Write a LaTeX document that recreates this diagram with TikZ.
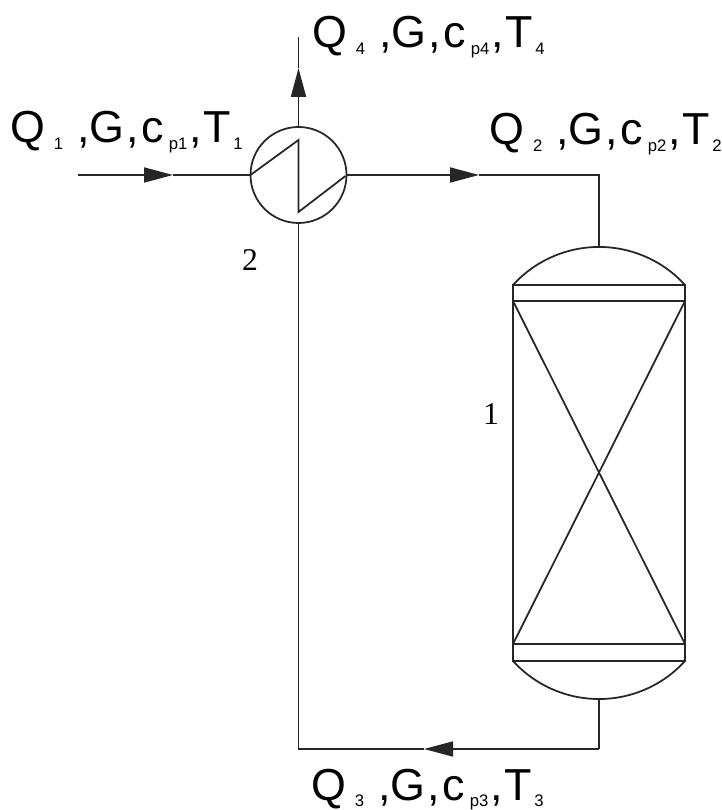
\documentclass[tikz,border=0pt]{standalone}
\usepackage{fontspec}
\setmainfont{Liberation Sans}
\newfontfamily\numfont{Liberation Serif}
\usetikzlibrary{arrows.meta,calc}
\newcommand{\flowsub}[1]{\raisebox{-3.6pt}{\fontsize{9.5}{10}\selectfont #1}}
\newcommand{\flowlabel}[1]{Q\hspace{5pt}\flowsub{#1}\hspace{8pt},G\hspace{0.8pt},\hspace{1.5pt}c\hspace{3pt}\flowsub{p#1}\hspace{1pt},\hspace{1pt}T\hspace{1.5pt}\flowsub{#1}}

\begin{document}
\begin{tikzpicture}[
        pipe/.style={draw=black!85, line width=1pt},
        flow/.style={pipe, -{Triangle[length=0.58cm,width=0.3cm]}},
        hxch/.style={draw=black!85, line width=1pt, circle, minimum size=1.92cm, inner sep=0pt, outer sep=0pt},
        vess/.style={draw=black!85, line width=1pt, minimum width=3.44cm, inner sep=0pt, outer sep=0pt},
        lbl/.style={anchor=base west, inner sep=0pt, font=\fontsize{25.5}{30}\selectfont},
        num/.style={inner sep=0pt, font=\numfont\fontsize{18}{20}\selectfont},
      ]
        \useasboundingbox (0,0) rectangle (14.42,16.2);

        % heat exchanger and reactor
        \node[hxch] (hx) at (5.97, 12.7) {};
        \node[vess, minimum height=7.52cm] (reactor) at (11.98, 6.74) {};
        \node[vess, minimum height=6.86cm] (bed) at (11.98, 6.75) {};

        % reactor heads
        \draw[pipe] (reactor.north west) arc[start angle=137.7, end angle=42.3, radius=2.326cm]
          coordinate[pos=0.5] (topcap);
        \draw[pipe] (reactor.south west) arc[start angle=222.3, end angle=317.7, radius=2.326cm]
          coordinate[pos=0.5] (botcap);

        % packing
        \draw[pipe] (bed.north west) -- (bed.south east);
        \draw[pipe] (bed.north east) -- (bed.south west);

        % zigzag inside the exchanger
        \draw[pipe] (hx.west) -- ($(hx.center)+(0,0.7)$) -- ($(hx.center)+(0,-0.74)$) -- ($(hx.east)+(-0.02,-0.02)$);

        % free ends and arrow tips
        \coordinate (feed) at (1.56, 12.7);
        \coordinate (feedtip) at (3.46, 12.7);
        \coordinate (vent) at (5.97, 15.46);
        \coordinate (venttip) at (5.97, 14.84);
        \coordinate (outtip) at (9.58, 12.7);
        \coordinate (corner) at (11.98, 12.7);
        \coordinate (retour) at (11.98, 1.22);
        \coordinate (rettip) at (8.48, 1.22);
        \coordinate (base) at (5.97, 1.22);

        % piping
        \draw[flow] (feed) -- (feedtip);
        \draw[pipe] (feedtip) -- (hx.west);
        \draw[flow] (hx.north) -- (venttip);
        \draw[pipe] (venttip) -- (vent);
        \draw[flow] (hx.east) -- (outtip);
        \draw[pipe] (outtip) -- (corner) -- (topcap);
        \draw[pipe] (botcap) -- (retour);
        \draw[flow] (retour) -- (rettip);
        \draw[pipe] (rettip) -- (base) -- (hx.south);

        % stream labels
        \node[lbl] (q1) at (0.2, 13.34) {\flowlabel{1}};
        \node[lbl] (q2) at (9.78, 13.3) {\flowlabel{2}};
        \node[lbl] (q3) at (6.22, 0.2) {\flowlabel{3}};
        \node[lbl] (q4) at (6.24, 15.24) {\flowlabel{4}};

        \node[num] (n2) at (5.0, 11.0) {2};
        \node[num] (n1) at (9.82, 7.92) {1};
      \end{tikzpicture}
\end{document}
